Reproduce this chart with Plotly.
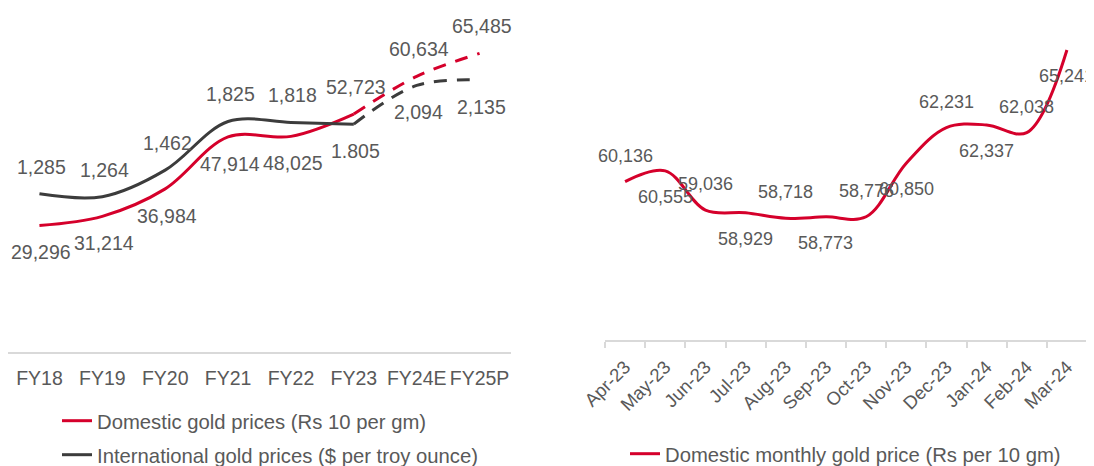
import plotly.graph_objects as go

# ---------------- data ----------------
fy_years = ["FY18", "FY19", "FY20", "FY21", "FY22", "FY23", "FY24E", "FY25P"]
domestic_prices = [29296, 31214, 36984, 47914, 48025, 52723, 60634, 65485]
intl_prices = [1285, 1264, 1462, 1825, 1818, 1805, 2094, 2135]
intl_labels = ["1,285", "1,264", "1,462", "1,825", "1,818", "1.805", "2,094", "2,135"]
n_actual = 6  # FY18..FY23 actual, rest estimate/projection

months = ["Apr-23", "May-23", "Jun-23", "Jul-23", "Aug-23", "Sep-23",
          "Oct-23", "Nov-23", "Dec-23", "Jan-24", "Feb-24", "Mar-24"]
monthly_prices = [60136, 60555, 59036, 58929, 58718, 58773,
                  58776, 60850, 62231, 62337, 62038, 65241]

# label placement (style): +1 above, -1 below
dom_label_side = [-1, -1, -1, -1, -1, 1, 1, 1]
intl_label_side = [1, 1, 1, 1, 1, -1, -1, -1]
monthly_label_side = [1, -1, 1, -1, 1, -1, 1, -1, 1, -1, 1, -1]

# ---------------- style ----------------
RED = "#D5002B"
DARK = "#3C3C3C"
GREY = "#595959"
AXIS = "#D9D9D9"
FONT = "Liberation Sans, Arial, sans-serif"
OFF = 8                      # page body margin
W, H = 1094 - OFF, 466 - OFF

fig = go.Figure()

# domestic (left, primary axis)
fig.add_trace(go.Scatter(
    x=fy_years[:n_actual], y=domestic_prices[:n_actual], mode="lines",
    line=dict(color=RED, width=3, shape="spline"),
    name="Domestic gold prices (Rs 10 per gm)", xaxis="x", yaxis="y",
    legend="legend"))
fig.add_trace(go.Scatter(
    x=fy_years[n_actual - 1:], y=domestic_prices[n_actual - 1:], mode="lines",
    line=dict(color=RED, width=3, shape="spline", dash="13px,10px"),
    showlegend=False, xaxis="x", yaxis="y"))
# international (left, secondary axis)
fig.add_trace(go.Scatter(
    x=fy_years[:n_actual], y=intl_prices[:n_actual], mode="lines",
    line=dict(color=DARK, width=3, shape="spline"),
    name="International gold prices ($ per troy ounce)", xaxis="x", yaxis="y2",
    legend="legend2"))
fig.add_trace(go.Scatter(
    x=fy_years[n_actual - 1:], y=intl_prices[n_actual - 1:], mode="lines",
    line=dict(color=DARK, width=3, shape="spline", dash="13px,10px"),
    showlegend=False, xaxis="x", yaxis="y2"))
# monthly (right)
fig.add_trace(go.Scatter(
    x=months, y=monthly_prices, mode="lines",
    line=dict(color=RED, width=3, shape="spline"),
    name="Domestic monthly gold price (Rs per 10 gm)", xaxis="x2", yaxis="y3",
    legend="legend3"))

annotations = []
SH = 27
for x, v, s in zip(fy_years, domestic_prices, dom_label_side):
    annotations.append(dict(x=x, y=v, xref="x", yref="y", text=f"{v:,}", showarrow=False,
                            yshift=s * SH, xshift=2,
                            font=dict(size=19.5, color=GREY, family=FONT)))
for x, v, t, s in zip(fy_years, intl_prices, intl_labels, intl_label_side):
    annotations.append(dict(x=x, y=v, xref="x", yref="y2", text=t, showarrow=False,
                            yshift=s * SH, xshift=2,
                            font=dict(size=19.5, color=GREY, family=FONT)))
for x, v, s in zip(months, monthly_prices, monthly_label_side):
    annotations.append(dict(x=x, y=v, xref="x2", yref="y3", text=f"{v:,}", showarrow=False,
                            yshift=s * 26, font=dict(size=18, color=GREY, family=FONT)))


def px_x(sx):  # screenshot x -> paper fraction
    return (sx - OFF) / W


def px_y(sy):  # screenshot y -> paper fraction
    return 1 - (sy - OFF) / H


leg_common = dict(xanchor="left", yanchor="middle", xref="container", yref="container",
                  font=dict(size=20.3, color=GREY), bgcolor="rgba(0,0,0,0)")

fig.update_layout(
    width=W, height=H, margin=dict(l=0, r=0, t=0, b=0, autoexpand=False),
    paper_bgcolor="white", plot_bgcolor="white",
    font=dict(family=FONT, color=GREY, size=19),
    annotations=annotations,
    xaxis=dict(domain=[px_x(8), px_x(511)], anchor="y", type="category", automargin=False,
               range=[-0.5, len(fy_years) - 0.5],
               showline=True, linecolor=AXIS, linewidth=2, showgrid=False,
               ticks="", tickfont=dict(size=19.5, color=GREY), ticklabelstandoff=8,
               fixedrange=True),
    yaxis=dict(domain=[px_y(351.7), px_y(10)], range=[2754, 74600], visible=False,
               showgrid=False, zeroline=False),
    yaxis2=dict(domain=[px_y(351.7), px_y(10)], range=[107, 2657], overlaying="y",
                anchor="x", visible=False, showgrid=False, zeroline=False),
    xaxis2=dict(domain=[px_x(605), px_x(1087)], anchor="y3", type="category", automargin=False,
                range=[-0.5, len(months) - 0.5],
                showline=True, linecolor=AXIS, linewidth=2, showgrid=False,
                ticks="outside", tickson="boundaries", ticklen=6, tickcolor=AXIS,
                tickwidth=2, tickangle=-45, tickfont=dict(size=18.5, color=GREY),
                ticklabelstandoff=7),
    yaxis3=dict(domain=[px_y(340), px_y(10)], range=[54000, 66791], anchor="x2",
                visible=False, showgrid=False, zeroline=False),
    legend=dict(x=px_x(57), y=px_y(421), **leg_common),
    legend2=dict(x=px_x(57), y=px_y(455), **leg_common),
    legend3=dict(x=px_x(625), y=px_y(454), **leg_common),
)

fig.write_html("out.html")
